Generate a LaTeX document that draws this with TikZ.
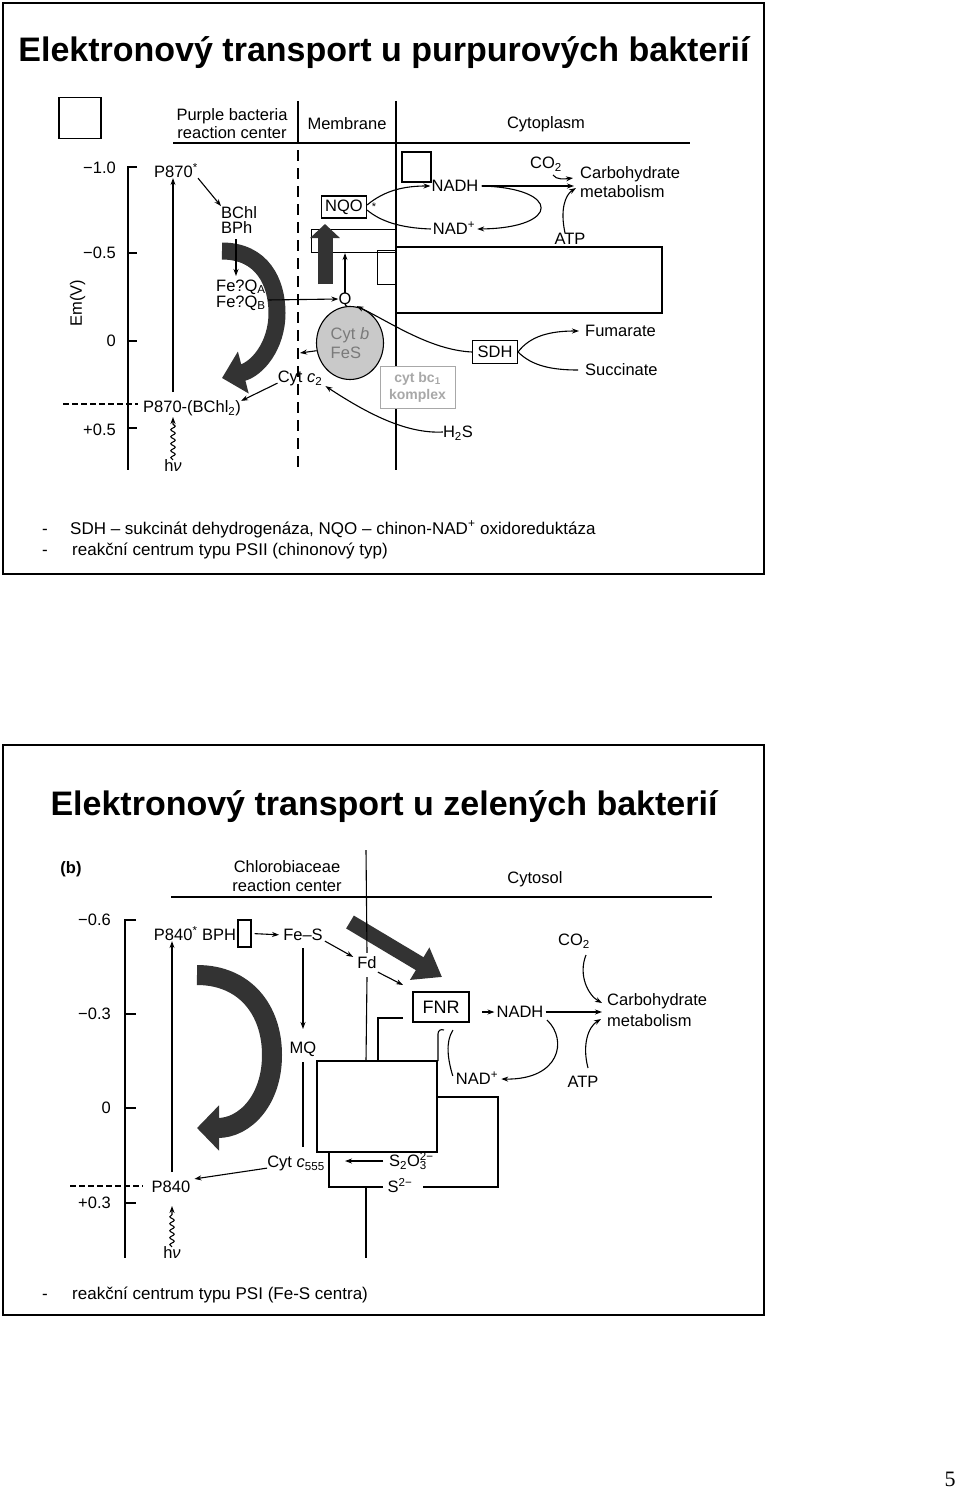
\documentclass[tikz,border=0pt]{standalone}
\usepackage{fontspec}
\setmainfont{Liberation Sans}
\newfontfamily\pnumfont{Liberation Serif}
\usetikzlibrary{arrows.meta,decorations.pathmorphing,shapes.geometric}
\definecolor{dark}{HTML}{333333}
\definecolor{cgray}{HTML}{C9C9C9}
\definecolor{tgray}{HTML}{7A7A7A}
\definecolor{kgray}{HTML}{A8A8A8}
\newcommand\labfont{\fontsize{16.5}{18}\selectfont}
\newcommand\ttlfont{\fontsize{34}{40}\selectfont\bfseries}
\newcommand\ftfont{\fontsize{17}{19}\selectfont}
\begin{document}
\begin{tikzpicture}[x=1pt,y=-1pt,
  lbl/.style={inner sep=0pt,font=\labfont,text height=11.8pt,text depth=0pt},
  mlbl/.style={inner sep=0pt},
  ttl/.style={inner sep=0pt,font=\ttlfont},
  ft/.style={inner sep=0pt,font=\ftfont},
  boxn/.style={draw,line width=1.1pt,inner sep=0pt},
  con/.style={line width=1.1pt},
  arr/.style={line width=1.1pt,-{Stealth[length=7pt,width=5pt]}},
  frame/.style={line width=1.6pt},
  wavy/.style={line width=1.1pt,-{Stealth[length=7pt,width=5pt]},decorate,decoration={snake,amplitude=2.2pt,segment length=7pt,post length=7pt}},
  membr/.style={line width=1.1pt,dash pattern=on 11pt off 7pt},
  thickdash/.style={line width=2.2pt,dash pattern=on 6pt off 3pt}]
\useasboundingbox (0,0) rectangle (960,1501);
\fill[white] (0,0) rectangle (960,1501);

%================ TOP PANEL ================
\draw[frame] (3,3) rectangle (764,574);
\node[ttl,anchor=base] (title1) at (384,62) {Elektronový transport u purpurových bakterií};

\node[boxn,minimum width=42,minimum height=41] (sq1) at (80,118) {};
\node[mlbl,align=center,font=\fontsize{16.5}{18}\selectfont] (prc) at (232,124) {Purple bacteria\\reaction center};
\node[lbl] (memb) at (347,124) {Membrane};
\node[lbl] (cytopl) at (546,123) {Cytoplasm};
\draw[con] (173,143) -- (690,143);
\draw[con] (298,101) -- (298,143);
\draw[membr] (298,150) -- (298,470);
\draw[con] (396,101) -- (396,470);

% axis
\draw[con] (137,167) -- (128,167) -- (128,470);
\foreach \yy in {253,341,428} \draw[con] (128,\yy) -- (137,\yy);
\node[lbl,anchor=east] (ta1) at (116,168) {−1.0};
\node[lbl,anchor=east] (ta2) at (116,253) {−0.5};
\node[lbl,anchor=east] (ta3) at (116,341) {0};
\node[lbl,anchor=east] (ta4) at (116,430) {+0.5};
\node[lbl,rotate=90] (emv) at (76,303) {Em(V)};
\draw[thickdash] (63,404) -- (138,404);

% crescent
\draw[dark,line width=17pt,-{Triangle[length=22pt,width=42pt]}] (222,251) .. controls (262,251) and (277,282) .. (277,313) .. controls (277,346) and (257,369) .. (222,378);

\node[lbl,anchor=west] (p870b) at (143,407) {P870-(BChl\textsubscript{2})};
\node[lbl] (p870s) at (176,172) {P870\textsuperscript{*}};
\node[lbl] (hv1) at (173,466) {h\textit{ν}};
\coordinate (hvtop1) at (173,392);
\draw[arr] (hvtop1) -- (p870s.south -| hvtop1);
\draw[wavy] (hv1.north) -- (173,417);

\node[mlbl,align=left,anchor=west,font=\fontsize{16.5}{15.5}\selectfont] (bchl) at (221,220) {BChl\\BPh};
\draw[arr] (p870s.south east) -- (bchl.north west);
\node[mlbl,align=left,anchor=west,font=\fontsize{16.5}{16}\selectfont] (feq) at (216,295) {Fe?Q\textsubscript{A}\\Fe?Q\textsubscript{B}};
\draw[arr] (236,239) -- (236,276);
\node[lbl] (q1) at (345,299) {Q};
\draw[arr] (268,300) -- (q1.west);

% NQO complex
\node[boxn,minimum width=85,minimum height=23,anchor=north west] (ra) at (311,229) {};
\node[boxn,minimum width=19,minimum height=34,anchor=north west] (rb) at (377,250) {};
\draw[con] (396,247) rectangle (662,313);
\draw[dark,line width=15pt,-{Triangle[length=14pt,width=29pt]}] (325,284) -- (325,224);
\draw[arr] (q1.north) -- (q1.north |- ra.south);
\node[boxn,minimum width=45,minimum height=22,font=\labfont] (nqo) at (344,207) {NQO};
\node[inner sep=0pt,font=\fontsize{11}{12}\selectfont] (star) at (374,207) {*};
\node[boxn,minimum width=29,minimum height=30] (sq2) at (416.5,167) {};

% cyt b / FeS
\node[ellipse,draw,line width=1.1pt,fill=cgray,minimum width=67,minimum height=73,inner sep=0pt,align=left,text=tgray,font=\fontsize{16.5}{19}\selectfont] (cytb) at (350,343) {Cyt \textit{b}\\FeS};
\coordinate (mline) at (300,353);
\draw[arr] (cytb.193) -- (mline);
\node[lbl] (cytc2) at (300,377) {Cyt \textit{c}\textsubscript{2}};
\draw[arr] (cytc2.south west) -- (p870b.north east);

\node[draw=kgray,fill=white,line width=1pt,minimum width=75,minimum height=42,inner sep=0pt,align=center,text=kgray,font=\fontsize{14}{17}\selectfont\bfseries] (bc1) at (417.5,387) {cyt bc\textsubscript{1}\\komplex};

\node[lbl] (h2s) at (458,432) {H\textsubscript{2}S};
\draw[arr] (h2s.west) .. controls (405,434) and (365,412) .. ([xshift=3pt,yshift=-3pt]cytc2.south east);

\node[boxn,minimum width=45,minimum height=23,font=\labfont] (sdh) at (495,352) {SDH};
\draw[arr] (sdh.west) .. controls (430,350) and (390,322) .. ([xshift=5pt,yshift=-1pt]q1.south east);
\node[lbl,anchor=west] (fum) at (585,331) {Fumarate};
\node[lbl,anchor=west] (succ) at (585,370) {Succinate};
\draw[arr,shorten >=6pt] (sdh.east) .. controls (530,336) and (550,331) .. (fum.west);
\draw[con,shorten >=7pt] (sdh.east) .. controls (532,366) and (552,370) .. (succ.west);

% NADH cycle
\node[lbl] (nadh1) at (455,186) {NADH};
\node[lbl] (nadp1) at (454,229) {NAD\textsuperscript{+}};
\draw[arr] ([yshift=2pt]nqo.east) .. controls (385,190) and (405,186) .. ([xshift=-1pt]nadh1.west);
\draw[arr] ([xshift=3pt]nadh1.east) .. controls (561,188) and (561,228) .. ([xshift=2pt]nadp1.east);
\draw[con] ([xshift=-2pt]nadp1.west) .. controls (400,228) and (380,221) .. ([yshift=-3pt]nqo.east);

\node[mlbl,align=left,anchor=west,font=\fontsize{16.5}{19}\selectfont] (carb1) at (580,182) {Carbohydrate\\metabolism};
\draw[arr,shorten >=6pt] ([xshift=3pt]nadh1.east) -- (nadh1.east -| carb1.west);
\node[lbl] (co21) at (546,163) {CO\textsubscript{2}};
\draw[arr] (553,175) .. controls (556,180) and (565,179) .. (573,178);
\node[lbl] (atp1) at (570,239) {ATP};
\draw[arr] ([xshift=-5pt]atp1.north) .. controls (560,210) and (565,195) .. (576,188);

\node[ft,anchor=base west] (d1) at (42,534) {-};
\node[ft,anchor=base west] (f1) at (70,534) {SDH – sukcinát dehydrogenáza, NQO – chinon-NAD\textsuperscript{+} oxidoreduktáza};
\node[ft,anchor=base west] (d2) at (42,555) {-};
\node[ft,anchor=base west] (f2) at (72,555) {reakční centrum typu PSII (chinonový typ)};

%================ BOTTOM PANEL ================
\draw[frame] (3,745) rectangle (764,1315);
\node[ttl,anchor=base] (title2) at (384,815) {Elektronový transport u zelených bakterií};

\node[lbl,font=\labfont\bfseries] (b) at (71,868) {(b)};
\node[mlbl,align=center,font=\fontsize{16.5}{19}\selectfont] (crc) at (287,876) {Chlorobiaceae\\reaction center};
\node[lbl] (cytosol) at (535,878) {Cytosol};
\draw[con] (171,897) -- (712,897);

% axis
\draw[con] (136,920) -- (125,920) -- (125,1258);
\foreach \yy in {1014,1108,1203} \draw[con] (125,\yy) -- (136,\yy);
\node[lbl,anchor=east] (tb1) at (111,920) {−0.6};
\node[lbl,anchor=east] (tb2) at (111,1014) {−0.3};
\node[lbl,anchor=east] (tb3) at (111,1108) {0};
\node[lbl,anchor=east] (tb4) at (111,1203) {+0.3};
\draw[thickdash] (70,1186) -- (143,1186);

% crescent and big arrow
\draw[dark,line width=20pt,-{Triangle[length=22pt,width=44pt]}] (197,975) .. controls (245,975) and (272,1010) .. (272,1055) .. controls (272,1100) and (245,1128) .. (197,1128);
\draw[dark,line width=15pt,-{Triangle[length=26pt,width=36pt]}] (350,922) -- (442,977);

\node[lbl] (p840) at (171,1187) {P840};
\node[lbl] (p840s) at (195,935) {P840\textsuperscript{*} BPH};
\node[lbl] (hv2) at (172,1253) {h\textit{ν}};
\coordinate (hvtop2) at (172,1172);
\draw[arr] (hvtop2) -- (p840s.south -| hvtop2);
\draw[wavy] (hv2.north) -- (172,1206);

\node[boxn,minimum width=13,minimum height=27] (bphbox) at (244.5,933.5) {};
\node[lbl] (fes) at (303,935) {Fe–S};
\draw[arr,shorten <=3pt,shorten >=4pt] (bphbox.east) -- (fes.west);
\node[lbl] (fd) at (367,963) {Fd};
\draw[arr] ([xshift=2pt]fes.south east) -- ([xshift=-4pt]fd.north west);
\node[lbl] (mq) at (303,1048) {MQ};
\draw[arr] (303,948) -- (mq.north |- 0,1029);
\draw[con] (366,850) -- ([yshift=4pt]fd.north);
\draw[con] ([yshift=-8pt]fd.south) -- (366,1061);
\draw[con] (303,1062) -- (303,1147);

\node[draw,line width=1.7pt,minimum width=56,minimum height=30,inner sep=0pt,font=\fontsize{18}{20}\selectfont] (fnr) at (441,1007) {FNR};
\draw[arr] ([xshift=1pt,yshift=-3pt]fd.south east) -- (403,985);

% boxes
\draw[con] (317,1061) rectangle (437,1152);
\draw[con] (378,1061) -- (378,1018) -- (403,1018);
\draw[con] (438,1061) -- (438,1034) .. controls (438,1030) and (441,1029) .. (444,1030);
\draw[con] (437,1097) -- (498,1097) -- (498,1187) -- (423,1187);
\node[lbl] (s2) at (400,1187) {S\textsuperscript{2−}};
\draw[con] (383,1187) -- (329,1187) -- (329,1152);
\draw[con] (366,1188) -- (366,1258);
\node[lbl] (s2o3) at (408,1161) {S\textsubscript{2}O\rlap{\textsuperscript{2−}}\textsubscript{3}};
\node[lbl] (c555) at (296,1162) {Cyt \textit{c}\textsubscript{555}};
\draw[arr] (383,1161) -- (345,1161);
\draw[arr] (c555.south west) -- ([xshift=4pt,yshift=2pt]p840.north east);

% NADH cycle
\node[lbl] (nadh2) at (520,1012) {NADH};
\node[lbl] (nadp2) at (477,1079) {NAD\textsuperscript{+}};
\draw[arr] (482,1012) -- ([xshift=-2pt]nadh2.west);
\draw[con] (453,1030) .. controls (445,1042) and (448,1060) .. ([xshift=-3pt,yshift=-3pt]nadp2.north west);
\draw[arr] (547,1020) .. controls (568,1040) and (560,1080) .. ([xshift=3pt]nadp2.east);
\node[mlbl,align=left,anchor=west,font=\fontsize{16.5}{21}\selectfont] (carb2) at (607,1010) {Carbohydrate\\metabolism};
\draw[arr,shorten >=5pt] ([xshift=2pt]nadh2.east) -- (nadh2.east -| carb2.west);
\node[lbl] (co22) at (574,940) {CO\textsubscript{2}};
\draw[arr] (586,955) .. controls (578,975) and (588,995) .. (602,1003);
\node[lbl] (atp2) at (583,1082) {ATP};
\draw[arr] (588,1068) .. controls (582,1045) and (588,1027) .. (601,1019);

\node[ft,anchor=base west] (d3) at (42,1299) {-};
\node[ft,anchor=base west] (f3) at (72,1299) {reakční centrum typu PSI (Fe-S centra)};

\node[inner sep=0pt,font=\pnumfont\fontsize{22}{24}\selectfont,anchor=base] (pn) at (950,1486) {5};
\end{tikzpicture}
\end{document}
